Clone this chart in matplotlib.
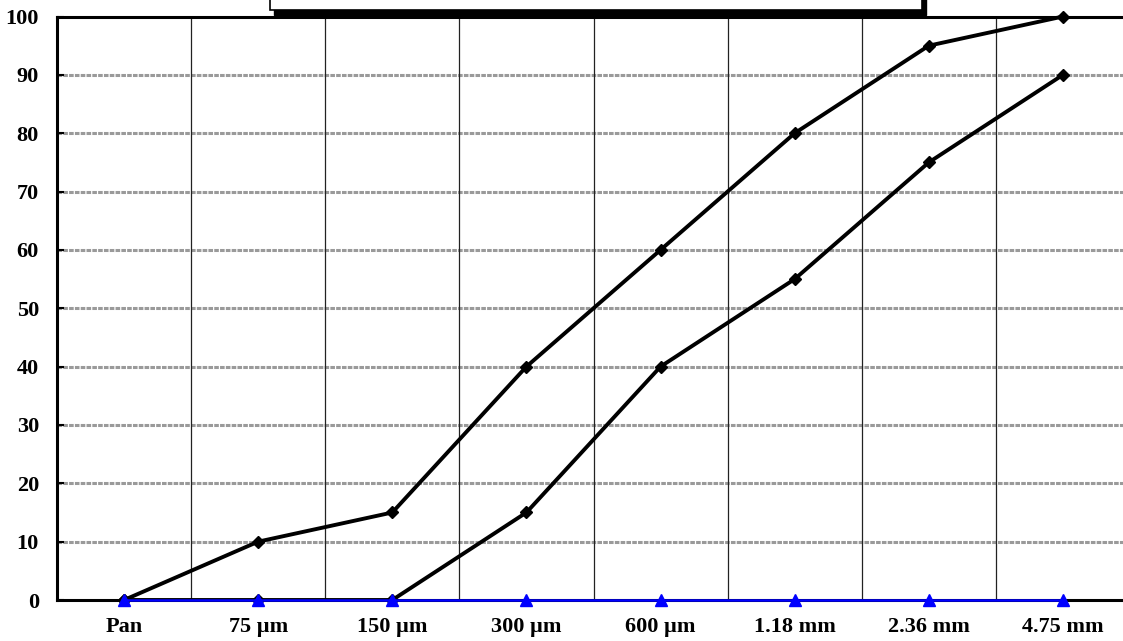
import matplotlib
matplotlib.use("Agg")
import matplotlib.pyplot as plt
from matplotlib.patches import Rectangle

categories = ["Pan", "75 µm", "150 µm", "300 µm", "600 µm", "1.18 mm", "2.36 mm", "4.75 mm"]
upper_limit = [0, 10, 15, 40, 60, 80, 95, 100]
lower_limit = [0, 0, 0, 15, 40, 55, 75, 90]
sample = [0, 0, 0, 0, 0, 0, 0, 0]
y_ticks = [0, 10, 20, 30, 40, 50, 60, 70, 80, 90, 100]

W, H = 1123, 641
fig = plt.figure(figsize=(W / 100, H / 100), dpi=100)
fig.patch.set_facecolor("white")
left, right, top, bottom = 57, 1130, 16.5, 600
ax = fig.add_axes([left / W, (H - bottom) / H, (right - left) / W, (bottom - top) / H])

x = list(range(len(categories)))
ax.set_xlim(-0.5, len(categories) - 0.5)
ax.set_ylim(0, 100)

# grid
for yv in y_ticks[1:-1]:
    ax.axhline(yv, color="#9a9a9a", lw=2.2, ls=(0, (1.5, 0.4)), zorder=1)
for b in range(len(categories) - 1):
    ax.axvline(b + 0.5, color="#222222", lw=0.9, zorder=1)

ax.plot(x, upper_limit, color="black", lw=2.8, marker="D", ms=6, zorder=4, clip_on=False)
ax.plot(x, lower_limit, color="black", lw=2.8, marker="D", ms=6, zorder=4, clip_on=False)
ax.plot(x, sample, color="#0000ff", lw=1.8, marker="^", ms=8, mfc="#0000ff", mec="#0000ff", zorder=5, clip_on=False)

font = dict(family=["Liberation Serif", "DejaVu Serif"], weight="bold", size=16)
ax.set_xticks(x)
ax.set_xticklabels(categories, **font)
ax.set_yticks(y_ticks)
ax.set_yticklabels([str(v) for v in y_ticks], **font)
ax.tick_params(axis="x", length=0, pad=12)
ax.tick_params(axis="y", direction="in", length=5, width=1.5, pad=13)

for s in ["left", "bottom", "top"]:
    ax.spines[s].set_color("black")
    ax.spines[s].set_linewidth(2.2)
ax.spines["right"].set_visible(False)

# title box (clipped at the top of the figure)
shadow = Rectangle((274 / W, (H - 15) / H), (926 - 274) / W, 30 / H, transform=fig.transFigure,
                   facecolor="black", edgecolor="black", zorder=5)
box = Rectangle((270 / W, (H - 10) / H), (922 - 270) / W, 30 / H, transform=fig.transFigure,
                facecolor="white", edgecolor="black", lw=1.2, zorder=6)
fig.patches.extend([shadow, box])

fig.savefig("out.png", dpi=100)
